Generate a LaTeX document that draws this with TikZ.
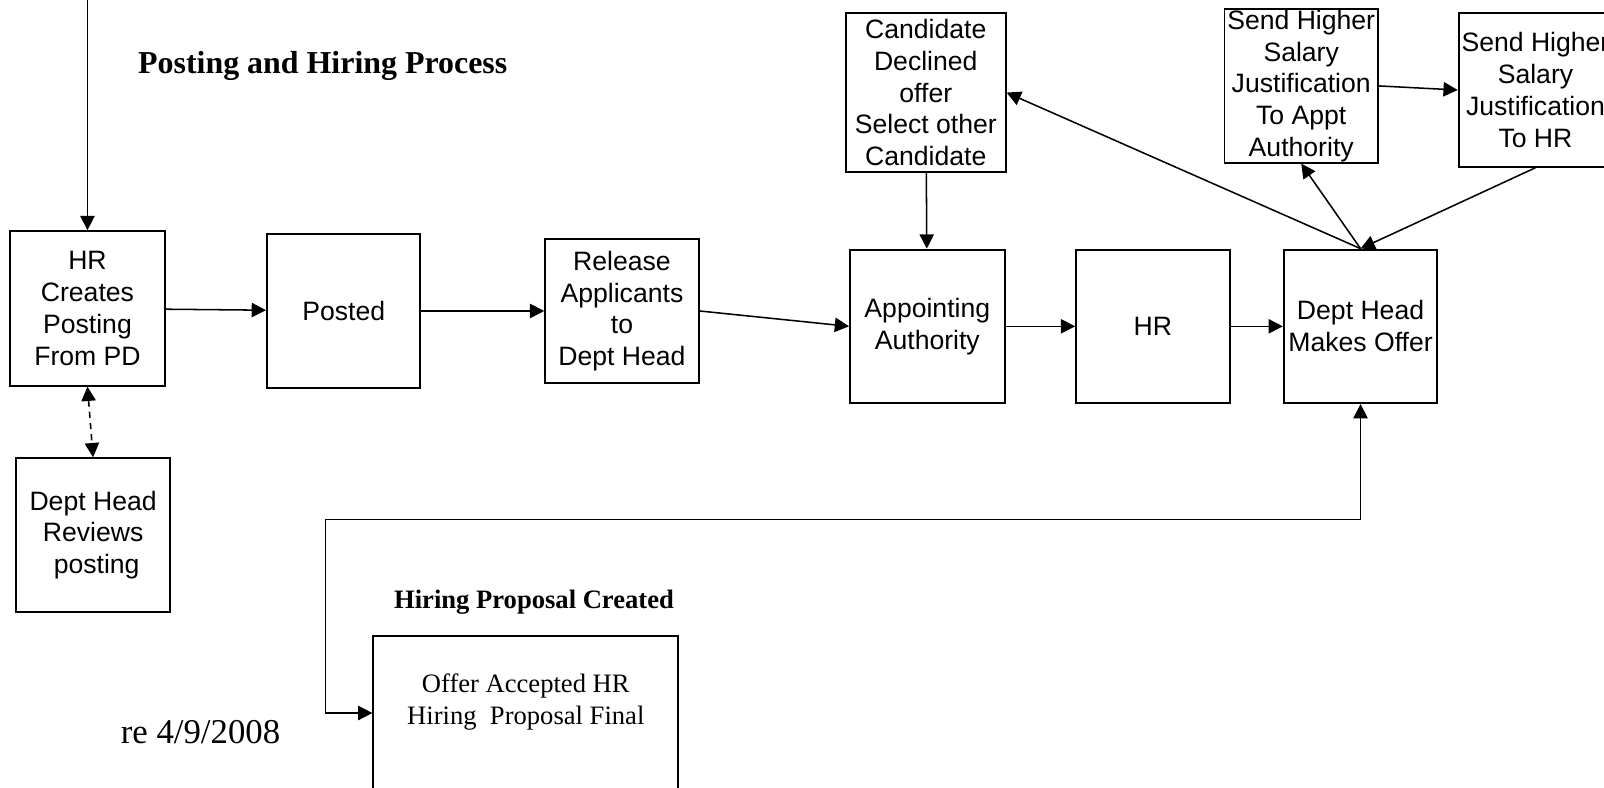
\documentclass[tikz,border=0pt]{standalone}
\usepackage{fontspec}
\setmainfont{Liberation Serif}
\setsansfont{Liberation Sans}
\usetikzlibrary{arrows.meta}

\begin{document}
\begin{tikzpicture}[x=1pt,y=-1pt,
  stepbox/.style={draw,line width=1.9pt,minimum width=150pt,minimum height=150pt,inner sep=0pt,align=center,font=\sffamily\fontsize{26}{31}\selectfont},
  arr/.style={line width=1.5pt,-{Triangle[length=14pt,width=14pt]}},
  arrboth/.style={line width=1.5pt,{Triangle[length=14pt,width=14pt]}-{Triangle[length=14pt,width=14pt]}}]
  \useasboundingbox (0,0) rectangle (1568,770);
  \node[anchor=base,font=\bfseries\fontsize{31.2}{37}\selectfont] (title) at (315.5,72) {Posting and Hiring Process};
  \node[stepbox,minimum width=151pt,minimum height=151pt] (create) at (85.5,301.5) {HR\\Creates\\Posting\\From PD};
  \node[stepbox] (posted) at (336,304) {Posted};
  \node[stepbox,minimum height=140pt] (release) at (608,304) {Release\\Applicants\\to\\Dept Head};
  \node[stepbox,minimum width=151pt] (appoint) at (906.5,319) {Appointing\\Authority};
  \node[stepbox] (hr) at (1127,319) {HR};
  \node[stepbox] (offer) at (1330,319) {Dept Head\\Makes Offer};
  \node[stepbox,minimum width=156pt,minimum height=155pt] (declined) at (905,90.5) {Candidate\\Declined\\offer\\Select other\\Candidate};
  \node[stepbox] (sendappt) at (1272,84) {Send Higher\\Salary\\Justification\\To Appt\\Authority};
  \node[stepbox] (sendhr) at (1501,88) {Send Higher\\Salary\\Justification\\To HR};
  \node[stepbox] (reviews) at (91,523) {Dept Head\\Reviews\\\hspace*{7pt}posting};
  \node[draw,line width=1.9pt,minimum width=298pt,minimum height=150pt] (accepted) at (514,697) {};
  \node[align=center,font=\fontsize{26}{31}\selectfont] (acceptedtext) at (514,686) {Offer Accepted HR\\Hiring\ \ Proposal Final};
  \node[anchor=base,font=\bfseries\fontsize{26}{31}\selectfont] (proposal) at (522,595) {Hiring Proposal Created};
  \node[anchor=base,font=\fontsize{34}{40}\selectfont] (date) at (196,727) {re 4/9/2008};
  \coordinate (topin) at (85.5,-2);
  \coordinate (loop) at (318,508);
  \draw[arr] (topin) -- (create);
  \draw[arr] (create) -- (posted);
  \draw[arr] (posted) -- (release);
  \draw[arr] (release.east) -- (appoint.west);
  \draw[arr] (appoint) -- (hr);
  \draw[arr] (hr) -- (offer);
  \draw[arr] (declined) -- (appoint);
  \draw[arr] (offer.north) -- (declined.east);
  \draw[arr] (offer.north) -- (sendappt.south);
  \draw[arr] (sendappt.east) -- (sendhr.west);
  \draw[arr] (sendhr.south) -- (offer.north);
  \draw[arrboth,dashed,dash pattern=on 6pt off 5pt] (create.south) -- (reviews.north);
  \draw[arrboth] (accepted.west) -| (loop) -| (offer.south);
\end{tikzpicture}
\end{document}
